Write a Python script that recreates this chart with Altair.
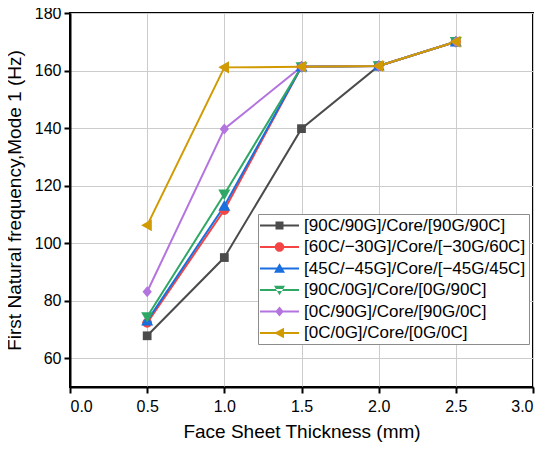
import altair as alt
import pandas as pd

thickness = [0.5, 1.0, 1.5, 2.0, 2.5]
series_names = [
    "[90C/90G]/Core/[90G/90C]",
    "[60C/\u221230G]/Core/[\u221230G/60C]",
    "[45C/\u221245G]/Core/[\u221245G/45C]",
    "[90C/0G]/Core/[0G/90C]",
    "[0C/90G]/Core/[90G/0C]",
    "[0C/0G]/Core/[0G/0C]",
]
s_90_90 = [67.8, 95.0, 139.8, 161.6, 170.0]
s_60_30 = [72.3, 111.5, 161.3, 161.6, 170.0]
s_45_45 = [73.0, 112.9, 161.3, 161.6, 170.0]
s_90_0 = [74.4, 117.0, 161.3, 161.6, 170.0]
s_0_90 = [83.1, 139.7, 161.3, 161.6, 170.0]
s_0_0 = [106.2, 161.1, 161.3, 161.6, 170.0]
all_series = [s_90_90, s_60_30, s_45_45, s_90_0, s_0_90, s_0_0]

colors = ["#4b4b4b", "#f44545", "#1a6fdf", "#2fa866", "#b474e0", "#d19a00"]

plot_shapes = [
    "M-0.8,-0.8H0.8V0.8H-0.8Z",
    "M-0.9,0A0.9,0.9,0,1,1,0.9,0A0.9,0.9,0,1,1,-0.9,0Z",
    "M0,-1.1L1.1,0.85L-1.1,0.85Z",
    "M0,1.1L1.1,-0.85L-1.1,-0.85Z",
    "M0,-1L0.85,0L0,1L-0.85,0Z",
    "M-1.1,0L0.85,-1.1L0.85,1.1Z",
]
bar = "M-3.9,-0.2H3.9V0.2H-3.9Z "
legend_shapes = [
    bar + "M-0.8,-0.8H0.8V0.8H-0.8Z",
    bar + "M-0.95,0A0.95,0.95,0,1,1,0.95,0A0.95,0.95,0,1,1,-0.95,0Z",
    bar + "M0,-1.05L1.1,0.85L-1.1,0.85Z",
    bar + "M0,1.05L1.1,-0.85L-1.1,-0.85Z",
    bar + "M0,-1L0.85,0L0,1L-0.85,0Z",
    bar + "M-1.1,0L0.9,-1.05L0.9,1.05Z",
]

rows = []
for i, (name, vals) in enumerate(zip(series_names, all_series)):
    for t, v in zip(thickness, vals):
        rows.append({"t": t, "f": v, "series": name, "order": i})
df = pd.DataFrame(rows)

FONT = "Liberation Sans"

x_enc = alt.X(
    "t:Q",
    scale=alt.Scale(domain=[0, 3]),
    axis=alt.Axis(
        values=[0, 0.5, 1.0, 1.5, 2.0, 2.5, 3.0],
        format=".1f",
        title="Face Sheet Thickness (mm)",
    ),
)
y_enc = alt.Y(
    "f:Q",
    scale=alt.Scale(domain=[50, 180]),
    axis=alt.Axis(
        values=[60, 80, 100, 120, 140, 160, 180],
        title="First Natural frequency,Mode 1 (Hz)",
    ),
)
color_scale = alt.Scale(domain=series_names, range=colors)
color_enc = alt.Color("series:N", scale=color_scale, title=None)

base = alt.Chart(df)

lines = base.mark_line(strokeWidth=2).encode(
    x=x_enc, y=y_enc, color=color_enc, order="order:Q"
)

point_layers = []
for name, shp in zip(series_names, plot_shapes):
    point_layers.append(
        base.transform_filter(alt.datum.series == name)
        .mark_point(filled=True, size=120, opacity=1, shape=shp)
        .encode(x=x_enc, y=y_enc, color=color_enc)
    )

legend_props = dict(
    orient="none",
    legendX=188,
    legendY=201,
    symbolSize=100,
    symbolOffset=10,
    labelOffset=16,
    labelFontSize=17,
    labelFont=FONT,
    labelColor="black",
    labelLimit=400,
    rowPadding=3.5,
    padding=3,
    strokeColor="#8c8c8c",
    fillColor="white",
    symbolStrokeWidth=0,
)

legend_layer = (
    base.transform_filter("false")
    .mark_point(filled=True, opacity=1, strokeWidth=0)
    .encode(
        x=x_enc,
        y=y_enc,
        color=alt.Color(
            "series:N",
            scale=color_scale,
            title=None,
            legend=alt.Legend(**legend_props),
        ),
        shape=alt.Shape(
            "series:N",
            scale=alt.Scale(domain=series_names, range=legend_shapes),
            title=None,
            legend=alt.Legend(**legend_props),
        ),
    )
)

chart = (
    alt.layer(lines, *point_layers, legend_layer)
    .properties(
        width=463,
        height=374,
        autosize=alt.AutoSizeParams(type="none"),
        padding={"left": 62, "top": 5, "right": 9, "bottom": 56},
    )
    .configure_view(stroke="black", strokeWidth=2)
    .configure_axis(
        labelFont=FONT,
        titleFont=FONT,
        labelFontSize=16,
        titleFontSize=19,
        titleFontWeight="normal",
        labelColor="black",
        titleColor="black",
        domainColor="black",
        domainWidth=2,
        tickColor="black",
        tickWidth=2,
        tickSize=6,
        gridColor="#cccccc",
        gridWidth=1,
    )
    .configure_axisX(labelPadding=5, titlePadding=8)
    .configure_axisY(labelPadding=3, titlePadding=10)
)

chart.save("out.html", embed_options={"renderer": "svg", "actions": False})
